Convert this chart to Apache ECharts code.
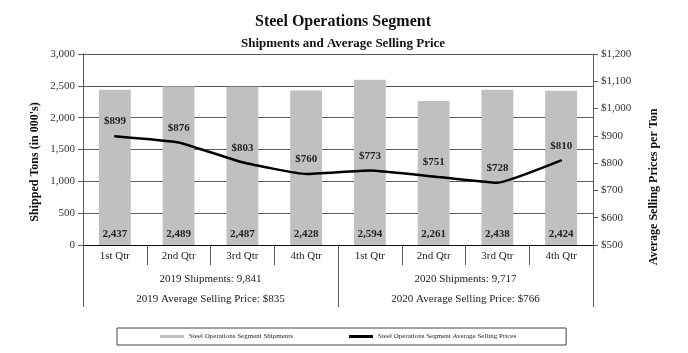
<!DOCTYPE html>
<html>
<head>
<meta charset="utf-8">
<script src="https://cdn.jsdelivr.net/npm/echarts@6/dist/echarts.min.js"></script>
<style>
html, body { margin: 0; padding: 0; background: #fff; }
#chart { width: 688px; height: 353px; }
</style>
</head>
<body>
<div id="chart"></div>
<script>
var quarters = ['1st Qtr', '2nd Qtr', '3rd Qtr', '4th Qtr', '1st Qtr', '2nd Qtr', '3rd Qtr', '4th Qtr'];
var shipments = [2437, 2489, 2487, 2428, 2594, 2261, 2438, 2424];
var prices = [899, 876, 803, 760, 773, 751, 728, 810];
var years = ['2019', '2020'];
var yearShipments = [9841, 9717];
var yearAvgPrice = [835, 766];

var font = '"Liberation Serif", "DejaVu Serif", serif';
var axisGray = '#5a5a5a';

function fmt(v) {
    return String(v).replace(/\B(?=(\d{3})+(?!\d))/g, ',');
}

var myChart = echarts.init(document.getElementById('chart'));
var option = {
    animation: false,
    textStyle: { fontFamily: font },
    title: {
        text: 'Steel Operations Segment',
        subtext: 'Shipments and Average Selling Price',
        left: 338,
        textAlign: 'center',
        top: 9,
        itemGap: 7,
        textStyle: { fontFamily: font, fontSize: 16, fontWeight: 'bold', color: '#111' },
        subtextStyle: { fontFamily: font, fontSize: 13, fontWeight: 'bold', color: '#111' }
    },
    legend: {
        left: 117,
        top: 328,
        padding: [5, 50, 5, 43],
        itemGap: 56,
        itemWidth: 24,
        itemHeight: 3,
        borderColor: '#444',
        borderWidth: 1,
        textStyle: { fontFamily: font, fontSize: 7, color: '#222' },
        data: [
            { name: 'Steel Operations Segment Shipments', icon: 'rect' },
            { name: 'Steel Operations Segment Average Selling Prices', icon: 'rect' }
        ]
    },
    grid: { left: 83, right: 95, top: 54, bottom: 108 },
    graphic: [
        {
            type: 'text', x: 35, y: 162, rotation: Math.PI / 2,
            style: { text: "Shipped Tons (in 000's)", font: 'bold 12px ' + font, fill: '#111', align: 'center', verticalAlign: 'middle' }
        },
        {
            type: 'text', x: 654, y: 187, rotation: Math.PI / 2,
            style: { text: 'Average Selling Prices per Ton', font: 'bold 12px ' + font, fill: '#111', align: 'center', verticalAlign: 'middle' }
        }
    ],
    xAxis: [
        {
            type: 'category',
            data: quarters,
            boundaryGap: true,
            axisLine: { show: true, lineStyle: { color: '#111', width: 1 } },
            axisTick: { show: true, alignWithLabel: false, length: 20, interval: 0, lineStyle: { color: axisGray } },
            axisLabel: { interval: 0, margin: 6, fontSize: 11, color: '#222', fontFamily: font }
        },
        {
            type: 'category',
            data: years,
            position: 'bottom',
            boundaryGap: true,
            axisLine: { show: false },
            axisTick: { show: true, length: 62, interval: 0, lineStyle: { color: axisGray } },
            axisLabel: {
                interval: 0, margin: 24, fontSize: 11, lineHeight: 20, color: '#222', fontFamily: font,
                formatter: function (v, i) {
                    return v + ' Shipments: ' + fmt(yearShipments[i]) + '\n' + v + ' Average Selling Price: $' + yearAvgPrice[i];
                }
            }
        }
    ],
    yAxis: [
        {
            type: 'value',
            min: 0, max: 3000, interval: 500,
            axisLine: { show: true, lineStyle: { color: axisGray } },
            axisTick: { show: true, length: 5, lineStyle: { color: axisGray } },
            splitLine: { lineStyle: { color: axisGray, width: 1 } },
            axisLabel: { fontSize: 11, color: '#333', fontFamily: font, margin: 8, formatter: function (v) { return fmt(v); } }
        },
        {
            type: 'value',
            min: 500, max: 1200, interval: 100,
            axisLine: { show: true, lineStyle: { color: axisGray } },
            axisTick: { show: true, length: 5, lineStyle: { color: axisGray } },
            splitLine: { show: false },
            axisLabel: { fontSize: 11, color: '#333', fontFamily: font, margin: 8, formatter: function (v) { return '$' + fmt(v); } }
        }
    ],
    series: [
        {
            name: 'Steel Operations Segment Shipments',
            type: 'bar',
            data: shipments,
            barWidth: '50%',
            itemStyle: { color: '#c0c0c0' },
            label: {
                show: true, position: 'insideBottom', distance: 5,
                fontSize: 11, fontWeight: 'bold', color: '#222', fontFamily: font,
                formatter: function (p) { return fmt(p.value); }
            }
        },
        {
            name: 'Steel Operations Segment Average Selling Prices',
            type: 'line',
            yAxisIndex: 1,
            data: prices,
            smooth: 0.12,
            symbol: 'circle',
            symbolSize: 2,
            showSymbol: true,
            lineStyle: { color: '#000', width: 2.5 },
            itemStyle: { color: '#000' },
            labelLayout: { hideOverlap: false },
            label: {
                show: true, position: 'top', distance: 8,
                fontSize: 11, fontWeight: 'bold', color: '#222', fontFamily: font,
                formatter: function (p) { return '$' + p.value; }
            }
        }
    ]
};
myChart.setOption(option);
</script>
</body>
</html>
